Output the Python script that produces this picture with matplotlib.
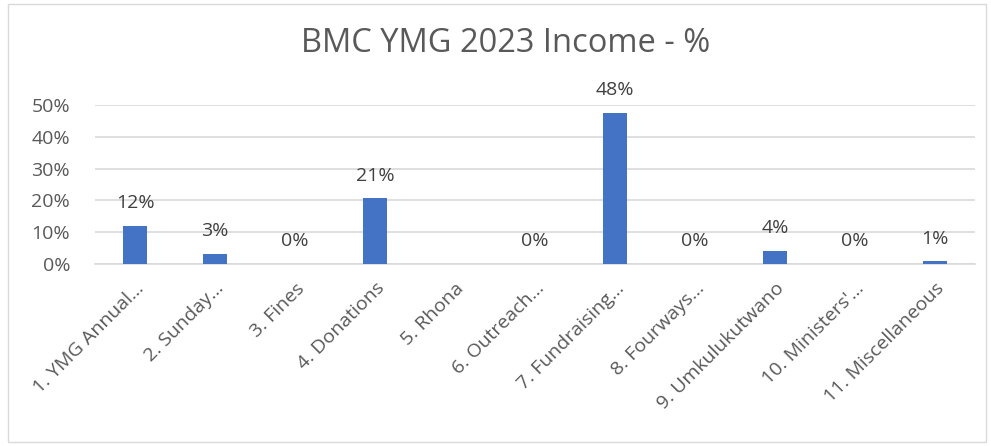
import numpy as np
import matplotlib
matplotlib.use("Agg")
import matplotlib.pyplot as plt
from matplotlib.patches import Rectangle
from matplotlib.ticker import PercentFormatter

categories = ["1. YMG Annual...", "2. Sunday...", "3. Fines", "4. Donations", "5. Rhona",
              "6. Outreach...", "7. Fundraising...", "8. Fourways...", "9. Umkulukutwano",
              "10. Ministers'...", "11. Miscellaneous"]
values = [0.12, 0.031, 0.0, 0.206, np.nan, 0.0, 0.476, 0.0, 0.04, 0.0, 0.008]
yticks = [0, 0.1, 0.2, 0.3, 0.4, 0.5]

plt.rcParams['font.family'] = ['Open Sans', 'DejaVu Sans']
txt = '#595959'

fig = plt.figure(figsize=(9.91, 4.46), dpi=100)
ax = fig.add_axes([95/991, 182/446, 880/991, 159/446])

x = np.arange(len(categories))
ax.bar(x, np.nan_to_num(values), width=0.31, color='#4472C4', zorder=3)
for xi, v in zip(x, values):
    if np.isnan(v):
        continue
    ax.annotate(f"{v:.0%}", (xi, v), xytext=(0, 10), textcoords='offset points',
                ha='center', va='bottom', fontsize=14, color='#404040')

ax.set_xlim(-0.5, len(categories) - 0.5)
ax.set_ylim(0, 0.5)
ax.set_yticks(yticks)
ax.yaxis.set_major_formatter(PercentFormatter(1.0, decimals=0))
ax.grid(axis='y', color='#D9D9D9', linewidth=1.2, zorder=0)
for s in ['top', 'right', 'left']:
    ax.spines[s].set_visible(False)
ax.spines['bottom'].set_color('#D9D9D9')
ax.spines['bottom'].set_linewidth(1.2)
ax.tick_params(axis='y', length=0, labelsize=14, labelcolor=txt, pad=18)
ax.tick_params(axis='x', length=0, labelsize=14, labelcolor=txt, pad=11)
ax.set_xticks(x)
ax.set_xticklabels(categories, rotation=45, ha='right', rotation_mode='anchor')

fig.text(506/991, 1 - 44/446, "BMC YMG 2023 Income - %", ha='center', va='center',
         fontsize=23.5, color=txt)

fig.patches.append(Rectangle((8/991, 4/446), 978/991, 438/446, transform=fig.transFigure,
                             fill=False, edgecolor='#D9D9D9', linewidth=1))

fig.savefig("out.png", dpi=100)
